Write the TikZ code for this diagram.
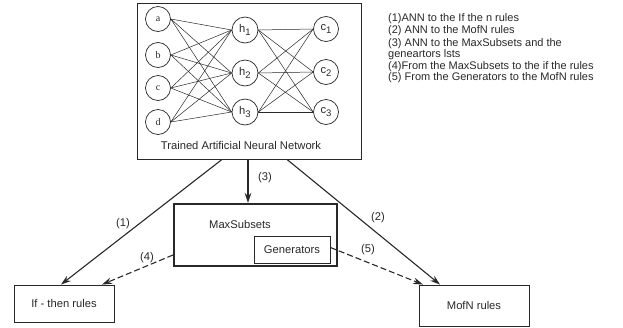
\documentclass[tikz,border=0pt]{standalone}
\usepackage{fontspec}
\setmainfont{Liberation Sans}
\newfontfamily\serifx{Liberation Serif}
\usetikzlibrary{arrows.meta}
\definecolor{ink}{RGB}{40,40,40}
\begin{document}
\begin{tikzpicture}[x=1pt,y=-1pt,
 every node/.style={font=\fontsize{11.2}{13}\selectfont, text=ink},
 box/.style={draw=ink, line width=0.9pt, rectangle, inner sep=0pt},
 neuron/.style={draw=ink, circle, line width=0.7pt, inner sep=0pt, minimum size=25pt},
 wire/.style={draw=ink, line width=0.5pt},
 flow/.style={draw=ink, line width=1.1pt, -{Stealth[length=10pt,width=6.5pt]}},
 dflow/.style={flow, dash pattern=on 6pt off 3pt},
 inlbl/.style={font=\fontsize{10}{10}\serifx},
 leg/.style={anchor=west, inner sep=0pt, font=\fontsize{11}{12}\selectfont}
]
\useasboundingbox (0,0) rectangle (623,327);
% main boxes
\node[box, minimum width=224pt, minimum height=156pt] (ann) at (249,81) {};
\node (annlabel) at (241,145) {Trained Artificial Neural Network};
\node[box, line width=2pt, minimum width=163pt, minimum height=62pt] (maxsub) at (255.5,235) {};
\node (maxlabel) at (240,224) {MaxSubsets};
\node[box, minimum width=76pt, minimum height=27pt] (gen) at (292,249.5) {Generators};
\node[box, minimum width=100pt, minimum height=37pt] (ifthen) at (64,303.5) {If - then rules};
\node[box, minimum width=110pt, minimum height=41pt] (mofn) at (474,305.5) {MofN rules};
% network
\node[neuron, inlbl] (a) at (158,19) {a};
\node[neuron, inlbl] (b) at (158,55) {b};
\node[neuron, inlbl] (c) at (158,88) {c};
\node[neuron, inlbl] (d) at (158,122) {d};
\node[neuron, minimum size=26pt] (h1) at (245,30) {h\raisebox{-2.5pt}{\fontsize{9.5}{9.5}\selectfont 1}};
\node[neuron, minimum size=26pt] (h2) at (245,73) {h\raisebox{-2.5pt}{\fontsize{9.5}{9.5}\selectfont 2}};
\node[neuron, minimum size=26pt] (h3) at (245,112) {h\raisebox{-2.5pt}{\fontsize{9.5}{9.5}\selectfont 3}};
\node[neuron] (c1) at (326,29) {c\raisebox{-2.5pt}{\fontsize{9.5}{9.5}\selectfont 1}};
\node[neuron] (c2) at (326,72) {c\raisebox{-2.5pt}{\fontsize{9.5}{9.5}\selectfont 2}};
\node[neuron] (c3) at (326,112) {c\raisebox{-2.5pt}{\fontsize{9.5}{9.5}\selectfont 3}};
\foreach \i in {a,b,c,d}{
  \foreach \j in {h1,h2,h3}{
    \draw[wire] (\i.east) -- (\j.west);
  }
}
\foreach \i in {h1,h2,h3}{
  \foreach \j in {c1,c2,c3}{
    \draw[wire] (\i.east) -- (\j.west);
  }
}
% flows
\draw[flow] ([xshift=-27pt]ann.south) -- ([xshift=-3pt]ifthen.north);
\draw[flow] ([xshift=38pt]ann.south) -- ([xshift=-34pt]mofn.north);
\draw[flow] ([xshift=-1pt]ann.south) -- ([xshift=-1pt]ann.south |- maxsub.north);
\draw[dflow] ([yshift=-20pt]maxsub.west) -- ([xshift=38pt]ifthen.north);
\draw[dflow] ([yshift=2pt]gen.east) -- ([xshift=-51pt]mofn.north);
\node (l1) at (123,224) {(1)};
\node (l2) at (378,218) {(2)};
\node (l3) at (265,178) {(3)};
\node (l4) at (147,258) {(4)};
\node (l5) at (368,250) {(5)};
% legend
\node[leg] (g1) at (388,19) {(1)ANN to the If the n rules};
\node[leg] (g2) at (388,31) {(2) ANN to the MofN rules};
\node[leg] (g3) at (388,44) {(3) ANN to the MaxSubsets and the};
\node[leg] (g4) at (388,55) {geneartors lsts};
\node[leg] (g5) at (388,67) {(4)From the MaxSubsets to the if the rules};
\node[leg] (g6) at (388,78) {(5) From the Generators to the MofN rules};
\end{tikzpicture}
\end{document}
